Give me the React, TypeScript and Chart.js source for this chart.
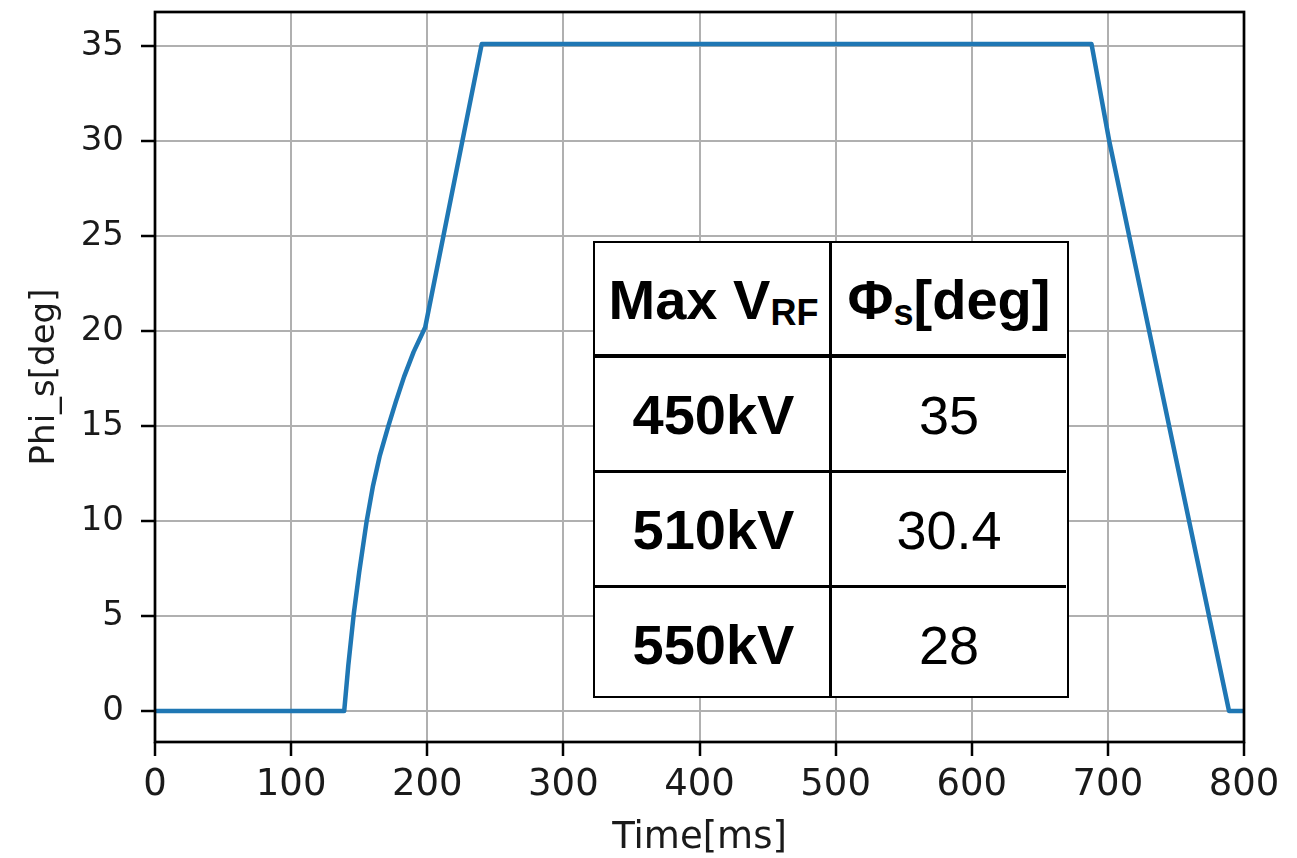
import React, { useEffect, useRef } from "react";
import { Chart, registerables } from "chart.js";

Chart.register(...registerables);

// ---- data ----
const timeMs = [0, 139, 142, 146, 150, 155.5, 160, 165, 171.4, 177, 183, 190, 198.5, 240, 688, 701, 789, 800];
const phiDeg = [0, 0, 2.4, 5.1, 7.3, 10, 11.8, 13.4, 15, 16.3, 17.6, 18.9, 20.2, 35.1, 35.1, 30, 0, 0];

const xTicks = [0, 100, 200, 300, 400, 500, 600, 700, 800];
const yTicks = [0, 5, 10, 15, 20, 25, 30, 35];

const xTitle = "Time[ms]";
const yTitle = "Phi_s[deg]";

const maxVrfLabels = ["450kV", "510kV", "550kV"];
const phiSValues = ["35", "30.4", "28"];

const AXIS_FONT = "'DejaVu Sans', sans-serif";
const TABLE_FONT = "'Liberation Sans', Arial, Helvetica, sans-serif";

const framePlugin = {
  id: "frame",
  afterDatasetsDraw(chart: any) {
    const { ctx, chartArea } = chart;
    ctx.save();
    ctx.strokeStyle = "#000";
    ctx.lineWidth = 2.7;
    ctx.strokeRect(chartArea.left, chartArea.top, chartArea.right - chartArea.left, chartArea.bottom - chartArea.top);
    ctx.restore();
  },
};

export default function App() {
  const canvasRef = useRef<HTMLCanvasElement | null>(null);

  useEffect(() => {
    if (!canvasRef.current) return;
    const chart = new Chart(canvasRef.current, {
      type: "line",
      data: {
        datasets: [
          {
            data: timeMs.map((x, i) => ({ x, y: phiDeg[i] })),
            borderColor: "#1f77b4",
            borderWidth: 4.5,
            pointRadius: 0,
            tension: 0,
            fill: false,
            borderJoinStyle: "round",
          },
        ],
      },
      options: {
        animation: false,
        responsive: false,
        devicePixelRatio: 1,
        layout: { padding: { left: 0, top: 12, right: 53, bottom: 0 } },
        plugins: { legend: { display: false }, tooltip: { enabled: false } },
        scales: {
          x: {
            type: "linear",
            min: 0,
            max: 800,
            afterBuildTicks: (s: any) => {
              s.ticks = xTicks.map((v) => ({ value: v }));
            },
            afterFit: (s: any) => {
              s.height = 116;
              s.paddingLeft = 0;
              s.paddingRight = 0;
            },
            grid: {
              color: "#b0b0b0",
              lineWidth: 2,
              tickColor: "#000",
              tickWidth: 2.5,
              tickLength: 14,
              drawTicks: true,
            },
            border: { display: false },
            ticks: {
              color: "#1a1a1a",
              font: { family: AXIS_FONT, size: 37 },
              padding: 7,
              maxRotation: 0,
              autoSkip: false,
            },
            title: {
              display: true,
              text: xTitle,
              color: "#1a1a1a",
              font: { family: AXIS_FONT, size: 37 },
              padding: { top: 0, bottom: -3 },
            },
          },
          y: {
            type: "linear",
            min: -1.63,
            max: 36.79,
            afterBuildTicks: (s: any) => {
              s.ticks = yTicks.map((v) => ({ value: v }));
            },
            afterFit: (s: any) => {
              s.width = 155;
              s.paddingTop = 0;
              s.paddingBottom = 0;
            },
            grid: {
              color: "#b0b0b0",
              lineWidth: 2,
              tickColor: "#000",
              tickWidth: 2.5,
              tickLength: 14,
              drawTicks: true,
            },
            border: { display: false },
            ticks: {
              color: "#1a1a1a",
              font: { family: AXIS_FONT, size: 34 },
              padding: 17,
              autoSkip: false,
            },
            title: {
              display: true,
              text: yTitle,
              color: "#1a1a1a",
              font: { family: AXIS_FONT, size: 34 },
              padding: { top: 25, bottom: 0 },
            },
          },
        },
      } as any,
      plugins: [framePlugin],
    });
    return () => chart.destroy();
  }, []);

  const lineStyle = (s: React.CSSProperties): React.CSSProperties => ({ position: "absolute", background: "#000", ...s });
  const cell = (left: number, top: number, width: number, height: number, content: React.ReactNode, bold: boolean, size: number) => (
    <div
      style={{
        position: "absolute",
        left,
        top,
        width,
        height,
        display: "flex",
        alignItems: "center",
        justifyContent: "center",
        fontFamily: TABLE_FONT,
        fontWeight: bold ? 700 : 400,
        fontSize: size,
        color: "#000",
        whiteSpace: "nowrap",
        lineHeight: 1,
      }}
    >
      {content}
    </div>
  );

  const rowTops = [114, 229, 344];
  const rowH = 115;

  return (
    <div style={{ position: "absolute", left: 0, top: 0, width: 1297, height: 858, background: "#fff" }}>
      <canvas ref={canvasRef} width={1297} height={858} style={{ display: "block", width: 1297, height: 858 }} />
      <div
        style={{
          position: "absolute",
          left: 593,
          top: 241,
          width: 476,
          height: 457,
          background: "#fff",
          boxSizing: "border-box",
          border: "2.7px solid #000",
        }}
      >
        {cell(0, 0, 237, 114, (
          <span>
            Max V<span style={{ fontSize: 36, position: "relative", top: 6 }}>RF</span>
          </span>
        ), true, 56)}
        {cell(237, 0, 234, 114, (
          <span>
            Φ<span style={{ fontSize: 36, position: "relative", top: 6 }}>s</span>[deg]
          </span>
        ), true, 56)}
        {maxVrfLabels.map((t, i) => (
          <React.Fragment key={t}>
            {cell(0, rowTops[i], 237, rowH, t, true, 56)}
            {cell(237, rowTops[i], 234, rowH, phiSValues[i], false, 54)}
          </React.Fragment>
        ))}
        <div style={lineStyle({ left: 234, top: 0, width: 3, height: 454 })} />
        <div style={lineStyle({ left: 0, top: 111, width: 471, height: 4 })} />
        <div style={lineStyle({ left: 0, top: 227, width: 471, height: 2.5 })} />
        <div style={lineStyle({ left: 0, top: 342, width: 471, height: 2.5 })} />
      </div>
    </div>
  );
}
